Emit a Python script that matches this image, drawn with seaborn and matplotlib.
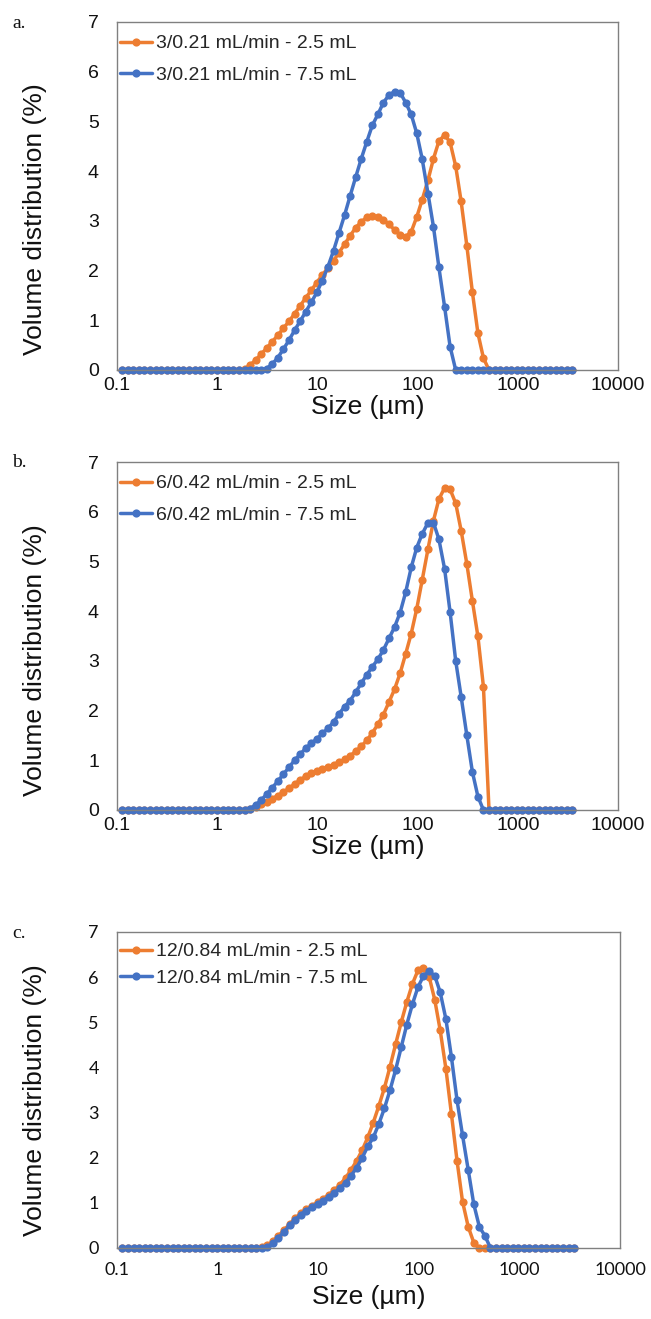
import matplotlib
matplotlib.use("Agg")
import matplotlib.pyplot as plt
import pandas as pd
import seaborn as sns
from matplotlib.lines import Line2D
from matplotlib.ticker import NullLocator

sns.set_theme(style="white")
plt.rcParams["font.family"] = ["Liberation Sans", "DejaVu Sans"]

# particle size classes (µm)
SIZE_UM = [
    0.113, 0.128, 0.146, 0.166, 0.188, 0.214, 0.243, 0.276, 0.314, 0.357, 0.405, 0.46, 0.523, 0.594, 0.675, 0.767, 0.872, 0.991,
    1.13, 1.28, 1.45, 1.65, 1.88, 2.13, 2.42, 2.75, 3.12, 3.55, 4.03, 4.58, 5.21, 5.92, 6.72, 7.64, 8.68, 9.86,
    11.2, 12.7, 14.5, 16.4, 18.7, 21.2, 24.1, 27.4, 31.1, 35.3, 40.1, 45.6, 51.8, 58.9, 66.9, 76, 86.4, 98.1,
    111, 127, 144, 163, 186, 211, 240, 272, 310, 352, 400, 454, 516, 586, 666, 756, 859, 976,
    1110, 1260, 1430, 1630, 1850, 2100, 2390, 2710, 3080, 3500,
]

# a. 3/0.21 mL/min
A_LOW = [
    0, 0, 0, 0, 0, 0, 0, 0, 0, 0, 0, 0, 0, 0, 0, 0, 0, 0,
    0, 0, 0, 0, 0.02, 0.10, 0.20, 0.32, 0.44, 0.57, 0.70, 0.84, 0.98, 1.13, 1.29, 1.45, 1.60, 1.76,
    1.91, 2.05, 2.20, 2.36, 2.53, 2.70, 2.86, 2.98, 3.07, 3.10, 3.08, 3.02, 2.93, 2.82, 2.72, 2.68, 2.78, 3.08,
    3.42, 3.82, 4.25, 4.60, 4.73, 4.58, 4.10, 3.39, 2.50, 1.57, 0.74, 0.24, 0, 0, 0, 0, 0, 0,
    0, 0, 0, 0, 0, 0, 0, 0, 0, 0,
]
A_HIGH = [
    0, 0, 0, 0, 0, 0, 0, 0, 0, 0, 0, 0, 0, 0, 0, 0, 0, 0,
    0, 0, 0, 0, 0, 0, 0, 0, 0.03, 0.12, 0.25, 0.42, 0.60, 0.80, 0.98, 1.17, 1.36, 1.56,
    1.80, 2.07, 2.40, 2.75, 3.12, 3.50, 3.88, 4.25, 4.59, 4.92, 5.14, 5.38, 5.53, 5.60, 5.58, 5.38, 5.14, 4.76,
    4.25, 3.55, 2.88, 2.07, 1.27, 0.47, 0, 0, 0, 0, 0, 0, 0, 0, 0, 0, 0, 0,
    0, 0, 0, 0, 0, 0, 0, 0, 0, 0,
]

# b. 6/0.42 mL/min
B_LOW = [
    0, 0, 0, 0, 0, 0, 0, 0, 0, 0, 0, 0, 0, 0, 0, 0, 0, 0,
    0, 0, 0, 0, 0, 0.03, 0.07, 0.12, 0.17, 0.23, 0.29, 0.36, 0.44, 0.52, 0.60, 0.68, 0.74, 0.79,
    0.83, 0.87, 0.91, 0.96, 1.02, 1.09, 1.18, 1.28, 1.40, 1.55, 1.72, 1.92, 2.17, 2.43, 2.75, 3.14, 3.55, 4.05,
    4.62, 5.25, 5.82, 6.25, 6.48, 6.45, 6.17, 5.62, 4.95, 4.21, 3.49, 2.48, 0, 0, 0, 0, 0, 0,
    0, 0, 0, 0, 0, 0, 0, 0, 0, 0,
]
B_HIGH = [
    0, 0, 0, 0, 0, 0, 0, 0, 0, 0, 0, 0, 0, 0, 0, 0, 0, 0,
    0, 0, 0, 0, 0, 0.03, 0.10, 0.20, 0.32, 0.45, 0.58, 0.72, 0.86, 1.00, 1.12, 1.24, 1.34, 1.43,
    1.54, 1.64, 1.77, 1.93, 2.08, 2.20, 2.37, 2.55, 2.72, 2.88, 3.03, 3.22, 3.45, 3.68, 3.97, 4.38, 4.88, 5.28,
    5.55, 5.78, 5.78, 5.45, 4.85, 3.98, 3.00, 2.28, 1.50, 0.77, 0.27, 0, 0, 0, 0, 0, 0, 0,
    0, 0, 0, 0, 0, 0, 0, 0, 0, 0,
]

# c. 12/0.84 mL/min
C_LOW = [
    0, 0, 0, 0, 0, 0, 0, 0, 0, 0, 0, 0, 0, 0, 0, 0, 0, 0,
    0, 0, 0, 0, 0, 0, 0, 0.02, 0.06, 0.15, 0.27, 0.40, 0.53, 0.66, 0.77, 0.86, 0.94, 1.01,
    1.09, 1.18, 1.28, 1.40, 1.55, 1.73, 1.93, 2.17, 2.45, 2.78, 3.15, 3.55, 4.02, 4.52, 5.00, 5.45, 5.85, 6.15,
    6.20, 6.00, 5.50, 4.83, 3.97, 2.97, 1.93, 1.03, 0.47, 0.12, 0, 0, 0, 0, 0, 0, 0, 0,
    0, 0, 0, 0, 0, 0, 0, 0, 0, 0,
]
C_HIGH = [
    0, 0, 0, 0, 0, 0, 0, 0, 0, 0, 0, 0, 0, 0, 0, 0, 0, 0,
    0, 0, 0, 0, 0, 0, 0, 0, 0.03, 0.10, 0.22, 0.36, 0.50, 0.63, 0.74, 0.83, 0.91, 0.98,
    1.05, 1.13, 1.22, 1.32, 1.45, 1.60, 1.78, 2.00, 2.25, 2.45, 2.75, 3.10, 3.50, 3.95, 4.45, 4.95, 5.40, 5.78,
    6.02, 6.13, 6.03, 5.67, 5.07, 4.23, 3.27, 2.50, 1.73, 0.97, 0.47, 0.27, 0, 0, 0, 0, 0, 0,
    0, 0, 0, 0, 0, 0, 0, 0, 0, 0,
]

X_TICKS = [0.1, 1, 10, 100, 1000, 10000]
X_TICK_LABELS = ["0.1", "1", "10", "100", "1000", "10000"]
Y_TICKS = [0, 1, 2, 3, 4, 5, 6, 7]

ORANGE = "#ED7D31"
BLUE = "#4472C4"
W, H = 651, 1319
MS = 5.9
LW = 2.5


def draw_panel(fig, box, tag, labels, low, high, tick_font, tick_size, xpad, xlab_y, ylab_y,
               spacing=0.72, leg_drop=3):
    left, top, right, bottom = box
    ax = fig.add_axes([left / W, 1 - bottom / H, (right - left) / W, (bottom - top) / H])
    n = len(SIZE_UM)
    df = pd.DataFrame({
        "size": SIZE_UM + SIZE_UM,
        "vol": low + high,
        "run": [labels[0]] * n + [labels[1]] * n,
    })
    sns.lineplot(data=df, x="size", y="vol", hue="run", palette=[ORANGE, BLUE],
                 marker="o", markersize=MS, markeredgewidth=0, linewidth=LW,
                 errorbar=None, legend=False, clip_on=False, ax=ax)
    ax.set_xscale("log")
    ax.set_xlim(0.1, 10000)
    ax.set_ylim(0, 7)
    ax.set_xticks(X_TICKS)
    ax.set_xticklabels(X_TICK_LABELS)
    ax.xaxis.set_minor_locator(NullLocator())
    ax.set_yticks(Y_TICKS)
    ax.set_yticklabels([str(v) for v in Y_TICKS])
    ax.tick_params(axis="both", length=0, labelsize=tick_size, colors="#111111")
    ax.tick_params(axis="y", pad=13)
    ax.tick_params(axis="x", pad=xpad)
    for t in ax.get_xticklabels() + ax.get_yticklabels():
        t.set_fontfamily(tick_font)
    for sp in ax.spines.values():
        sp.set_color("#808080")
        sp.set_linewidth(1.0)
    ax.set_xlabel("Size (µm)", fontsize=19, color="#111111")
    ax.set_ylabel("Volume distribution (%)", fontsize=19, color="#111111")
    ax.xaxis.label.set_va("center")
    ax.yaxis.label.set_va("center")
    ax.xaxis.set_label_coords(0.5, -(xlab_y - bottom) / (bottom - top))
    ax.yaxis.set_label_coords((35 - left) / (right - left), (bottom - ylab_y) / (bottom - top))

    handles = [
        Line2D([], [], color=ORANGE, marker="o", markersize=MS, markeredgewidth=0, linewidth=LW),
        Line2D([], [], color=BLUE, marker="o", markersize=MS, markeredgewidth=0, linewidth=LW),
    ]
    ax.legend(handles, labels, loc="upper left",
              bbox_to_anchor=(-0.014, 1.0 - leg_drop / (bottom - top)), frameon=False,
              fontsize=14, handlelength=1.65, handletextpad=0.2, labelspacing=spacing,
              borderaxespad=0.0, borderpad=0.5)
    fig.text(12 / W, 1 - (top + 1) / H, tag, family=["Liberation Serif"], fontsize=14,
             va="center", ha="left", color="#111111")
    return ax


fig = plt.figure(figsize=(W / 100, H / 100), dpi=100)
draw_panel(fig, (117, 22, 618, 370), "a.",
           ["3/0.21 mL/min - 2.5 mL", "3/0.21 mL/min - 7.5 mL"], A_LOW, A_HIGH,
           "Liberation Sans", 14, 5, 407, 219)
draw_panel(fig, (117, 462, 618, 810), "b.",
           ["6/0.42 mL/min - 2.5 mL", "6/0.42 mL/min - 7.5 mL"], B_LOW, B_HIGH,
           "Liberation Sans", 14, 5, 847, 660)
draw_panel(fig, (117, 932, 620, 1248), "c.",
           ["12/0.84 mL/min - 2.5 mL", "12/0.84 mL/min - 7.5 mL"], C_LOW, C_HIGH,
           "Lato", 13, 10, 1297, 1100, spacing=0.45, leg_drop=1)

fig.savefig("out.png", dpi=100, facecolor="white")
plt.close(fig)
